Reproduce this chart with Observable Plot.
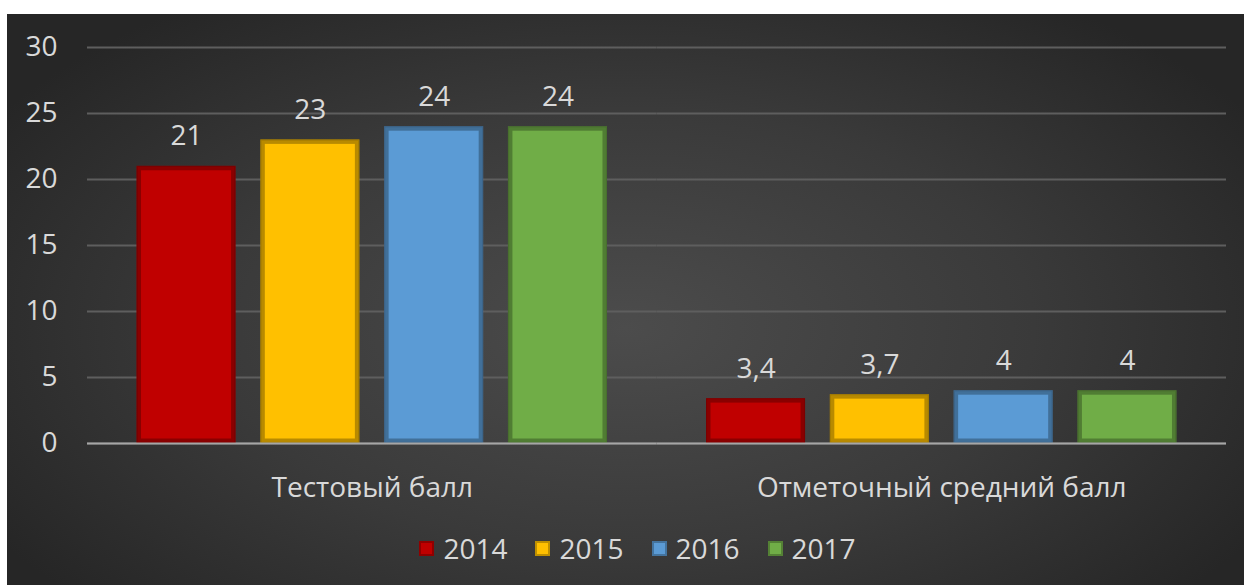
<!DOCTYPE html>
<html>
<head>
<meta charset="utf-8">
<script src="https://cdn.jsdelivr.net/npm/d3@7"></script>
<script src="https://cdn.jsdelivr.net/npm/@observablehq/plot@0.6"></script>
<style>
  html, body { margin: 0; padding: 0; background: #ffffff; }
  #frame {
    position: absolute; left: 7px; top: 14px; width: 1237px; height: 571px;
    background: radial-gradient(ellipse 60% 70% at 50% 55%, #4c4c4c 0%, #3a3a3a 55%, #262626 100%);
    overflow: hidden; font-family: "Open Sans", sans-serif;
  }
  #chart { position: absolute; left: 0; top: 0; }
  #legend {
    position: absolute; left: 12px; width: 1237px; top: 514px; height: 40px;
    display: flex; justify-content: center; align-items: center;
    color: #d9d9d9; font-size: 28px; font-family: "Open Sans", sans-serif;
  }
  .item { display: flex; align-items: center; margin: 0 14px; }
  .sw { width: 15px; height: 15px; margin-right: 9px; box-sizing: border-box; border: 2px solid rgba(0,0,0,0.25); }
</style>
</head>
<body>
<div id="frame">
  <div id="chart"></div>
  <div id="legend"></div>
</div>
<script>
const categories = ["Тестовый балл", "Отметочный средний балл"];
const years = ["2014", "2015", "2016", "2017"];
const testScores = [21, 23, 24, 24];
const averageMarks = [3.4, 3.7, 4, 4];
const colors = ["#C00000", "#FFC000", "#5B9BD5", "#70AD47"];
const yTicks = [0, 5, 10, 15, 20, 25, 30];

const seriesByCategory = [testScores, averageMarks];
const data = categories.flatMap((c, i) =>
  years.map((y, j) => ({ category: c, year: y, value: seriesByCategory[i][j] }))
);

const textColor = "#d9d9d9";
const chart = Plot.plot({
  width: 1237,
  height: 500,
  marginLeft: 80,
  marginRight: 18,
  marginTop: 33,
  marginBottom: 71,
  style: { background: "transparent", fontFamily: "Open Sans, sans-serif", color: textColor },
  fx: { domain: categories, padding: 0, round: false, label: null },
  x: { domain: years, paddingInner: 0.2, paddingOuter: 0.4, round: false, axis: null },
  y: { domain: [0, 30], label: null },
  color: { domain: years, range: colors },
  marks: [
    Plot.gridY(yTicks, { stroke: "#5e5e5e", strokeOpacity: 1, strokeWidth: 2 }),
    Plot.axisY(yTicks, { tickSize: 0, tickPadding: 30, fontSize: 28, fill: textColor, label: null }),
    Plot.axisFx({ anchor: "bottom", tickSize: 0, tickPadding: 34, fontSize: 28, fill: textColor, label: null }),
    Plot.barY(data, { fx: "category", x: "year", y: "value", fill: "year" }),
    Plot.barY(data, { fx: "category", x: "year", y: "value", fill: "none", stroke: "black", strokeOpacity: 0.28, strokeWidth: 3, inset: 3 }),
    Plot.barY(data, { fx: "category", x: "year", y: "value", fill: "none", stroke: "black", strokeOpacity: 0.35, strokeWidth: 1.5, inset: 0.75 }),
    Plot.ruleY([0], { stroke: "#a6a6a6", strokeWidth: 2 }),
    Plot.text(data, {
      fx: "category", x: "year", y: "value",
      text: d => String(d.value).replace(".", ","),
      dy: -30, fontSize: 28, fill: textColor
    })
  ]
});
document.getElementById("chart").appendChild(chart);

const legend = document.getElementById("legend");
years.forEach((y, i) => {
  const item = document.createElement("div");
  item.className = "item";
  const sw = document.createElement("span");
  sw.className = "sw";
  sw.style.background = colors[i];
  const label = document.createElement("span");
  label.textContent = y;
  item.appendChild(sw);
  item.appendChild(label);
  legend.appendChild(item);
});
</script>
</body>
</html>
